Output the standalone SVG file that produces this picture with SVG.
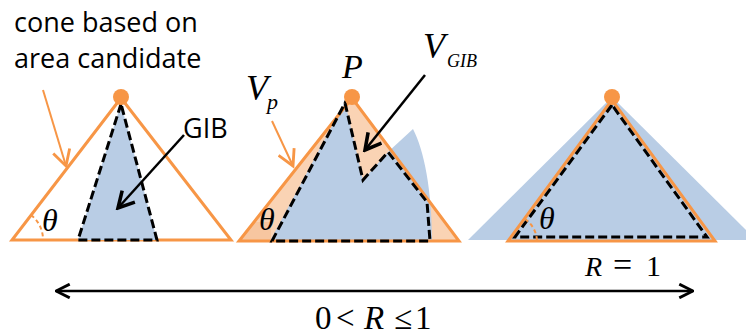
<svg xmlns="http://www.w3.org/2000/svg" width="746" height="336" viewBox="0 0 746 336">
<style>
.cone{fill:none;stroke:#F79646;stroke-width:3;stroke-linejoin:miter}
.gib{stroke:#000;stroke-width:3;stroke-dasharray:9,4;fill:#B9CDE5}
.dash{fill:none;stroke:#000;stroke-width:3;stroke-dasharray:9,4}
.dot{fill:#F79646}
.arc{fill:none;stroke:#F79646;stroke-width:2;stroke-dasharray:4,3}
.lbl{font-family:"Open Sans","Liberation Sans",sans-serif;font-size:27px;fill:#000}
.m{font-family:"Liberation Serif","Times New Roman",serif;font-style:italic;fill:#000}
.mu{font-family:"Liberation Serif","Times New Roman",serif;fill:#000}
.th{font-family:"Liberation Serif","Times New Roman",serif;font-style:italic;font-size:32px;fill:#000}
.blk{stroke:#000;stroke-width:2.5;fill:none}
.org{stroke:#F79646;stroke-width:2;fill:none}
</style>
<defs>
<marker id="ab" markerUnits="userSpaceOnUse" markerWidth="20" markerHeight="20" refX="12" refY="7" orient="auto" viewBox="0 0 14 14">
<path d="M1,1 L12,7 L1,13" fill="none" stroke="#000" stroke-width="2.5"/>
</marker>
<marker id="ao" markerUnits="userSpaceOnUse" markerWidth="20" markerHeight="20" refX="12" refY="7" orient="auto" viewBox="0 0 14 14">
<path d="M1,1 L12,7 L1,13" fill="none" stroke="#F79646" stroke-width="2"/>
</marker>
<marker id="as" markerUnits="userSpaceOnUse" markerWidth="16" markerHeight="16" refX="13" refY="7" orient="auto-start-reverse" viewBox="0 0 14 14">
<path d="M1,1 L13,7 L1,13" fill="none" stroke="#000" stroke-width="2.5"/>
</marker>
<clipPath id="c2"><polygon points="352,98 239,241 459,241"/></clipPath>
</defs>

<g id="caption">
<text class="lbl" x="14" y="32">cone based on</text>
<text class="lbl" x="14" y="68">area candidate</text>
</g>

<g id="cone1">
<polygon class="cone" points="121,98 12,240 231,240" fill="#fff"/>
<polygon class="gib" points="121,104 78,240 157,240"/>
<path class="arc" d="M31,215 A31,31 0 0 1 43,240"/>
<text class="th" x="42" y="231">θ</text>
<circle class="dot" cx="121" cy="97" r="8"/>
</g>

<g id="gib-label">
<text class="lbl" x="183" y="138" font-size="25">GIB</text>
</g>

<g id="cone2">
<polygon points="352,98 239,241 459,241" fill="#FAD3B4" stroke="none"/>
<rect x="240" y="222" width="31" height="19" fill="#F7C6A0" clip-path="url(#c2)"/>
<path d="M345,102 L363,180 L388,152 L413,129 C424,150 432,190 432,241 L270,241 Z" fill="#B9CDE5"/>
<polygon class="cone" points="352,98 239,241 459,241"/>
<path class="dash" d="M345,103 L363,180 L388,152 L427,202 L430,241 L272,241 Z"/>
<text class="th" x="259" y="230">θ</text>
<circle class="dot" cx="352" cy="97" r="8"/>
</g>

<g id="labels2">
<text class="m" x="246" y="100" font-size="36">V</text>
<text class="m" x="267" y="109" font-size="22">p</text>
<text class="m" x="342" y="78" font-size="34">P</text>
<text class="m" x="423" y="58" font-size="36">V</text>
<text class="m" x="447" y="67" font-size="18">GIB</text>
</g>

<g id="cone3">
<polygon points="612,97 468,240 756,240" fill="#B9CDE5"/>
<polygon class="cone" points="612,100 508,241 715,241"/>
<polygon class="dash" points="612,105 515,237 707,237"/>
<path class="arc" d="M525,219 A28,28 0 0 1 537,243"/>
<text class="th" x="539" y="229">θ</text>
<circle class="dot" cx="612" cy="97" r="8"/>
</g>

<g id="connectors">
<line class="org" x1="43" y1="90" x2="66" y2="166" marker-end="url(#ao)"/>
<line class="blk" x1="184" y1="135" x2="118" y2="208" marker-end="url(#ab)"/>
<line class="org" x1="272" y1="121" x2="293" y2="166" marker-end="url(#ao)"/>
<line class="blk" x1="425" y1="75" x2="365" y2="150" marker-end="url(#ab)"/>
<line x1="56" y1="291" x2="693" y2="291" stroke="#000" stroke-width="2.5" marker-start="url(#as)" marker-end="url(#as)"/>
</g>

<g id="range">
<text font-size="28" y="276"><tspan class="m" x="585">R</tspan><tspan class="mu" x="613" font-size="34">=</tspan><tspan class="mu" x="646" font-size="30">1</tspan></text>
<text font-size="33" y="329"><tspan class="mu" x="315">0</tspan><tspan class="mu" x="336">&lt;</tspan><tspan class="m" x="364">R</tspan><tspan class="mu" x="394">≤</tspan><tspan class="mu" x="415">1</tspan></text>
</g>
</svg>
